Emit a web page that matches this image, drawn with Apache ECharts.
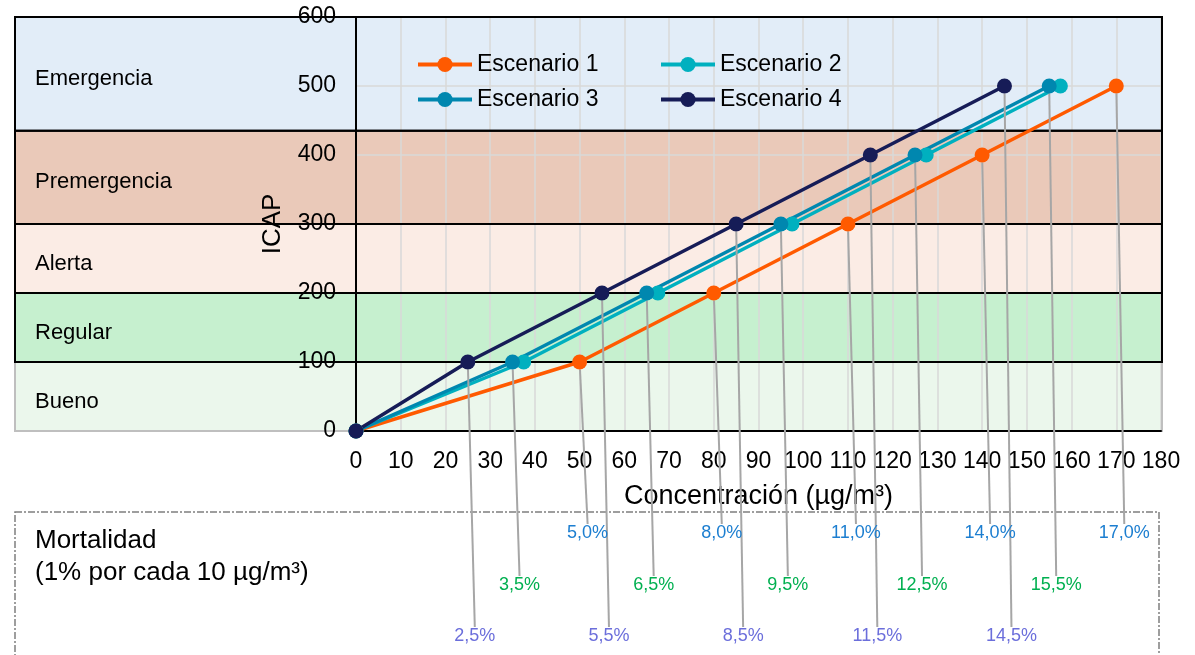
<!DOCTYPE html>
<html>
<head>
<meta charset="utf-8">
<script src="https://cdn.jsdelivr.net/npm/echarts@6/dist/echarts.min.js"></script>
<style>
  html, body { margin: 0; padding: 0; background: #ffffff; }
  #chart { width: 1195px; height: 655px; }
</style>
</head>
<body>
<div id="chart"></div>
<script>
// ICAP index reached at each concentration, for four scenarios
const icapLevels = [0, 100, 200, 300, 400, 500];
const escenarios = ['Escenario 1', 'Escenario 2', 'Escenario 3', 'Escenario 4'];
const concEscenario1 = [0, 50, 80, 110, 140, 170];
const concEscenario2 = [0, 37.5, 67.5, 97.5, 127.5, 157.5];
const concEscenario3 = [0, 35, 65, 95, 125, 155];
const concEscenario4 = [0, 25, 55, 85, 115, 145];

// Air quality bands (ICAP limits, bottom to top)
const bandNames = ['Bueno', 'Regular', 'Alerta', 'Premergencia', 'Emergencia'];
const bandLimits = [0, 100, 200, 300, 435, 600];

// Axis ranges
const xRange = [0, 180, 10];
const yRange = [0, 600, 100];

const FONT = '"Liberation Sans", Arial, sans-serif';
const concentraciones = [concEscenario1, concEscenario2, concEscenario3, concEscenario4];
const seriesColors = ['#FF5A00', '#00B0BF', '#0087AF', '#161C57'];
const bandFills = ['#EBF7EC', '#C6F0CF', '#FBECE5', '#EAC9B9', '#E2EDF8'];
const bandStrokes = ['#BFBFBF', '#000000', '#000000', '#000000', '#000000'];

// Mortality labels: 1% per 10 µg/m³, placed in rows under the plot
const pctStyle = {
  0: { color: '#1C7ED0', row: 533, shift: 8 },
  2: { color: '#00B050', row: 585, shift: 7 },
  3: { color: '#6B6EDB', row: 636, shift: 7 }
};
function mortalidad(c) {
  return (c / 10).toFixed(1).replace('.', ',') + '%';
}

const chart = echarts.init(document.getElementById('chart'), null, { renderer: 'canvas' });

const lineSeries = concentraciones.map(function (conc, s) {
  const pct = pctStyle[s];
  const item = {
    type: 'line',
    name: escenarios[s],
    xAxisIndex: 0,
    yAxisIndex: 0,
    data: conc.map(function (c, i) {
      return { value: [c, icapLevels[i]], label: { show: !!pct && i > 0 } };
    }),
    symbol: 'circle',
    symbolSize: 15,
    clip: false,
    lineStyle: { color: seriesColors[s], width: 3.5 },
    itemStyle: { color: seriesColors[s] },
    emphasis: { disabled: true },
    animation: false,
    z: 3
  };
  if (pct) {
    item.label = {
      show: false,
      position: 'bottom',
      formatter: function (p) { return mortalidad(p.value[0]); },
      color: pct.color,
      fontSize: 18,
      fontFamily: FONT
    };
    item.labelLine = { show: true, lineStyle: { color: '#A6A6A6', width: 2 } };
    item.labelLayout = function (p) {
      return {
        x: p.rect.x + p.rect.width / 2 + pct.shift,
        y: pct.row,
        align: 'center',
        verticalAlign: 'middle'
      };
    };
  }
  return item;
});

const bandData = bandNames.map(function (n, i) {
  return [0, bandLimits[i], 1, bandLimits[i + 1], i];
});

function bandSeries(fill) {
  return {
    type: 'custom',
    xAxisIndex: 1,
    yAxisIndex: 1,
    silent: true,
    animation: false,
    z: fill ? -1 : 1,
    encode: { x: [0, 2], y: [1, 3] },
    data: bandData,
    renderItem: function (params, api) {
      const i = api.value(4);
      const p0 = api.coord([api.value(0), api.value(1)]);
      const p1 = api.coord([api.value(2), api.value(3)]);
      const shape = { x: p0[0], y: p1[1], width: p1[0] - p0[0], height: p0[1] - p1[1] };
      if (fill) {
        return {
          type: 'group',
          children: [
            { type: 'rect', shape: shape, style: { fill: bandFills[i] } },
            {
              type: 'text',
              style: {
                text: bandNames[i],
                x: p0[0] + 20,
                y: (p0[1] + p1[1]) / 2 + 5,
                verticalAlign: 'middle',
                align: 'left',
                fill: '#000',
                fontSize: 22,
                fontFamily: FONT
              }
            }
          ]
        };
      }
      return {
        type: 'rect',
        shape: shape,
        style: { fill: 'none', stroke: bandStrokes[i], lineWidth: 2 }
      };
    }
  };
}

const tickLabel = { color: '#000', fontSize: 23, fontFamily: FONT };
const legendBase = {
  orient: 'vertical', top: 48, itemGap: 12,
  itemWidth: 54, itemHeight: 19, selectedMode: false,
  lineStyle: { width: 4 },
  textStyle: { color: '#000', fontSize: 23, fontFamily: FONT }
};

const option = {
  backgroundColor: '#ffffff',
  animation: false,
  grid: [
    { left: 356, right: 34, top: 17, height: 414, outerBoundsMode: 'none', containLabel: false },
    { left: 15, right: 33, top: 17, height: 414, outerBoundsMode: 'none', containLabel: false }
  ],
  xAxis: [
    {
      gridIndex: 0, type: 'value', min: xRange[0], max: xRange[1], interval: xRange[2], z: 0,
      axisLine: { show: false }, axisTick: { show: false }, axisLabel: { show: false },
      splitLine: { show: true, lineStyle: { color: '#D9D9D9', width: 1.5 } }
    },
    { gridIndex: 1, type: 'value', min: 0, max: 1, show: false },
    {
      gridIndex: 0, type: 'value', position: 'bottom', offset: 0,
      min: xRange[0], max: xRange[1], interval: xRange[2], z: 1.5,
      axisLine: { show: true, onZero: false, lineStyle: { color: '#000', width: 2 } },
      axisTick: { show: false },
      axisLabel: Object.assign({ margin: 19, hideOverlap: false }, tickLabel),
      splitLine: { show: false },
      name: 'Concentración (µg/m³)',
      nameLocation: 'middle',
      nameGap: 52,
      nameTextStyle: { color: '#000', fontSize: 27, fontFamily: FONT }
    }
  ],
  yAxis: [
    {
      gridIndex: 0, type: 'value', min: yRange[0], max: yRange[1], interval: yRange[2], z: 0,
      axisLine: { show: false }, axisTick: { show: false }, axisLabel: { show: false },
      splitLine: { show: true, lineStyle: { color: '#D9D9D9', width: 1.5 } }
    },
    { gridIndex: 1, type: 'value', min: yRange[0], max: yRange[1], show: false },
    {
      gridIndex: 0, type: 'value', position: 'left', offset: 0,
      min: yRange[0], max: yRange[1], interval: yRange[2], z: 1.5,
      axisLine: { show: true, onZero: false, lineStyle: { color: '#000', width: 2 } },
      axisTick: { show: false },
      axisLabel: Object.assign({ margin: 20, hideOverlap: false }, tickLabel),
      splitLine: { show: false },
      name: 'ICAP',
      nameLocation: 'middle',
      nameGap: 70,
      nameTextStyle: { color: '#000', fontSize: 26, fontFamily: FONT }
    }
  ],
  legend: [
    Object.assign({ data: [escenarios[0], escenarios[2]], left: 411 }, legendBase),
    Object.assign({ data: [escenarios[1], escenarios[3]], left: 654 }, legendBase)
  ],
  graphic: [
    {
      type: 'rect', silent: true, z: 0,
      shape: { x: 15, y: 512, width: 1144, height: 200 },
      style: { fill: 'none', stroke: '#7F7F7F', lineWidth: 1.5, lineDash: [7, 2, 2, 2] }
    },
    {
      type: 'text', silent: true, x: 35, y: 541,
      style: { text: 'Mortalidad', fill: '#000', fontSize: 26, fontFamily: FONT, verticalAlign: 'middle' }
    },
    {
      type: 'text', silent: true, x: 35, y: 573,
      style: { text: '(1% por cada 10 µg/m³)', fill: '#000', fontSize: 26, fontFamily: FONT, verticalAlign: 'middle' }
    }
  ],
  series: [bandSeries(true), bandSeries(false)].concat(lineSeries)
};

chart.setOption(option);
</script>
</body>
</html>
